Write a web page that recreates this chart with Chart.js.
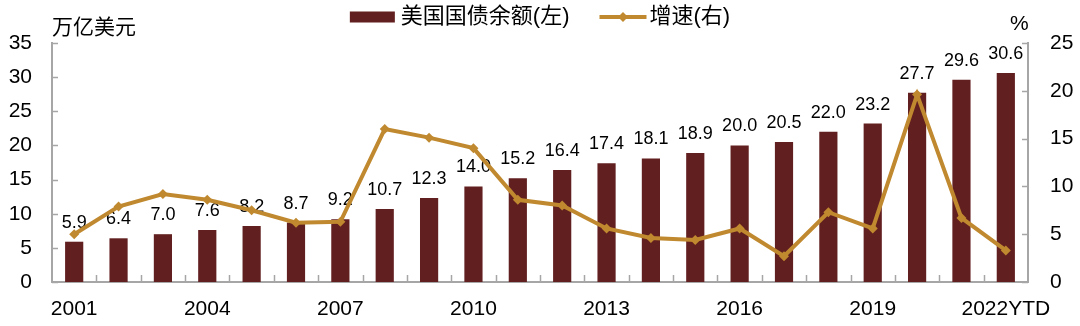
<!DOCTYPE html>
<html>
<head>
<meta charset="utf-8">
<script src="https://cdn.jsdelivr.net/npm/chart.js@4/dist/chart.umd.min.js"></script>
<style>
  body { margin: 0; background: #fff; }
  #wrap { width: 1080px; height: 326px; }
</style>
</head>
<body>
<div id="wrap"><canvas id="chart" width="1080" height="326"></canvas></div>
<script>
const years = ["2001", "2002", "2003", "2004", "2005", "2006", "2007", "2008", "2009", "2010", "2011",
               "2012", "2013", "2014", "2015", "2016", "2017", "2018", "2019", "2020", "2021", "2022YTD"];
// 美国国债余额, 万亿美元 (left axis)
const debt = [5.9, 6.4, 7.0, 7.6, 8.2, 8.7, 9.2, 10.7, 12.3, 14.0, 15.2,
              16.4, 17.4, 18.1, 18.9, 20.0, 20.5, 22.0, 23.2, 27.7, 29.6, 30.6];
// 增速, % (right axis)
const growth = [5.0, 7.9, 9.2, 8.6, 7.5, 6.2, 6.3, 16.0, 15.1, 14.0, 8.6,
                8.0, 5.6, 4.6, 4.4, 5.6, 2.7, 7.3, 5.6, 19.6, 6.7, 3.3];
const leftTicks = [0, 5, 10, 15, 20, 25, 30, 35];
const rightTicks = [0, 5, 10, 15, 20, 25];

const BAR = "#621f1f";
const LINE = "#c0892f";
const AXIS = "#a6a6a6";
const NUM_FONT = '"Liberation Sans", Arial, sans-serif';
const CJK_FONT = '"Liberation Sans", "Noto Sans CJK SC", sans-serif';

// value labels over the bars, drawn before the line so the line sits on top
const barLabels = {
  id: "barLabels",
  afterDatasetDraw(chart, args) {
    if (args.index !== 0) return;
    const ctx = chart.ctx;
    ctx.save();
    ctx.font = "18px " + NUM_FONT;
    ctx.fillStyle = "#000";
    ctx.textAlign = "center";
    ctx.textBaseline = "alphabetic";
    args.meta.data.forEach((bar, i) => {
      ctx.fillText(debt[i].toFixed(1), bar.x, bar.y - 14);
    });
    ctx.restore();
  }
};

// inward tick marks, unit titles and the legend
const decorations = {
  id: "decorations",
  afterDraw(chart) {
    const ctx = chart.ctx;
    const a = chart.chartArea;
    const x = chart.scales.x, y = chart.scales.y, y1 = chart.scales.y1;
    ctx.save();
    ctx.strokeStyle = AXIS;
    ctx.lineWidth = 1.5;
    ctx.beginPath();
    leftTicks.forEach(v => {
      const py = Math.round(y.getPixelForValue(v)) + 0.5;
      ctx.moveTo(a.left, py); ctx.lineTo(a.left + 6, py);
    });
    rightTicks.forEach(v => {
      const py = Math.round(y1.getPixelForValue(v)) + 0.5;
      ctx.moveTo(a.right, py); ctx.lineTo(a.right - 6, py);
    });
    for (let i = 1; i < years.length; i++) {
      const px = Math.round((x.getPixelForValue(i - 1) + x.getPixelForValue(i)) / 2) + 0.5;
      ctx.moveTo(px, a.bottom); ctx.lineTo(px, a.bottom - 7);
    }
    ctx.stroke();

    // unit titles
    ctx.fillStyle = "#000";
    ctx.textBaseline = "middle";
    ctx.textAlign = "left";
    ctx.font = '21px "Noto Sans CJK SC", sans-serif';
    ctx.fillText("万亿美元", a.left, 26);
    ctx.font = "21px " + NUM_FONT;
    ctx.fillText("%", a.right - 18, 24);

    // legend
    const items = chart.data.datasets.map(d => d.label);
    ctx.font = "22px " + CJK_FONT;
    const w0 = 45 + 6 + ctx.measureText(items[0]).width;
    const w1 = 47 + 3 + ctx.measureText(items[1]).width;
    const gap = 30;
    let lx = chart.width / 2 - (w0 + gap + w1) / 2;
    const ly = 17;
    ctx.fillStyle = BAR;
    ctx.fillRect(lx, ly - 5.5, 45, 11);
    ctx.fillStyle = "#000";
    ctx.fillText(items[0], lx + 51, ly);
    lx += w0 + gap;
    ctx.strokeStyle = LINE;
    ctx.lineWidth = 4;
    ctx.beginPath();
    ctx.moveTo(lx, ly); ctx.lineTo(lx + 47, ly);
    ctx.stroke();
    ctx.fillStyle = LINE;
    ctx.beginPath();
    ctx.moveTo(lx + 23.5, ly - 5); ctx.lineTo(lx + 28.5, ly);
    ctx.lineTo(lx + 23.5, ly + 5); ctx.lineTo(lx + 18.5, ly);
    ctx.closePath(); ctx.fill();
    ctx.fillStyle = "#000";
    ctx.fillText(items[1], lx + 50, ly);
    ctx.restore();
  }
};

new Chart(document.getElementById("chart"), {
  type: "bar",
  data: {
    labels: years,
    datasets: [
      {
        label: "美国国债余额(左)",
        data: debt,
        backgroundColor: BAR,
        yAxisID: "y",
        order: 2,
        barPercentage: 0.41,
        categoryPercentage: 1
      },
      {
        type: "line",
        label: "增速(右)",
        data: growth,
        borderColor: LINE,
        backgroundColor: LINE,
        borderWidth: 4,
        pointStyle: "rectRot",
        pointRadius: 5,
        pointBorderWidth: 0,
        tension: 0,
        yAxisID: "y1",
        order: 1
      }
    ]
  },
  options: {
    responsive: false,
    animation: false,
    layout: { padding: { top: 43, left: 0, right: 0, bottom: 0 } },
    plugins: { legend: { display: false }, tooltip: { enabled: false } },
    scales: {
      x: {
        grid: { display: false, drawTicks: false },
        border: { display: true, color: AXIS, width: 2 },
        ticks: {
          autoSkip: false, maxRotation: 0, padding: 15, color: "#000",
          font: { size: 21, family: NUM_FONT },
          callback: function (v, i) { return i % 3 === 0 ? this.getLabelForValue(v) : ""; }
        },
        afterFit: s => { s.height = 44; }
      },
      y: {
        position: "left", min: 0, max: 35,
        grid: { display: false, drawTicks: false },
        border: { display: true, color: AXIS, width: 2 },
        ticks: { stepSize: 5, padding: 20, color: "#000", font: { size: 21, family: NUM_FONT } },
        afterFit: s => { s.width = 52; }
      },
      y1: {
        position: "right", min: 0, max: 25,
        grid: { display: false, drawTicks: false },
        border: { display: true, color: AXIS, width: 2 },
        ticks: { stepSize: 5, padding: 22, color: "#000", font: { size: 21, family: NUM_FONT } },
        afterFit: s => { s.width = 52; }
      }
    }
  },
  plugins: [barLabels, decorations]
});
</script>
</body>
</html>
